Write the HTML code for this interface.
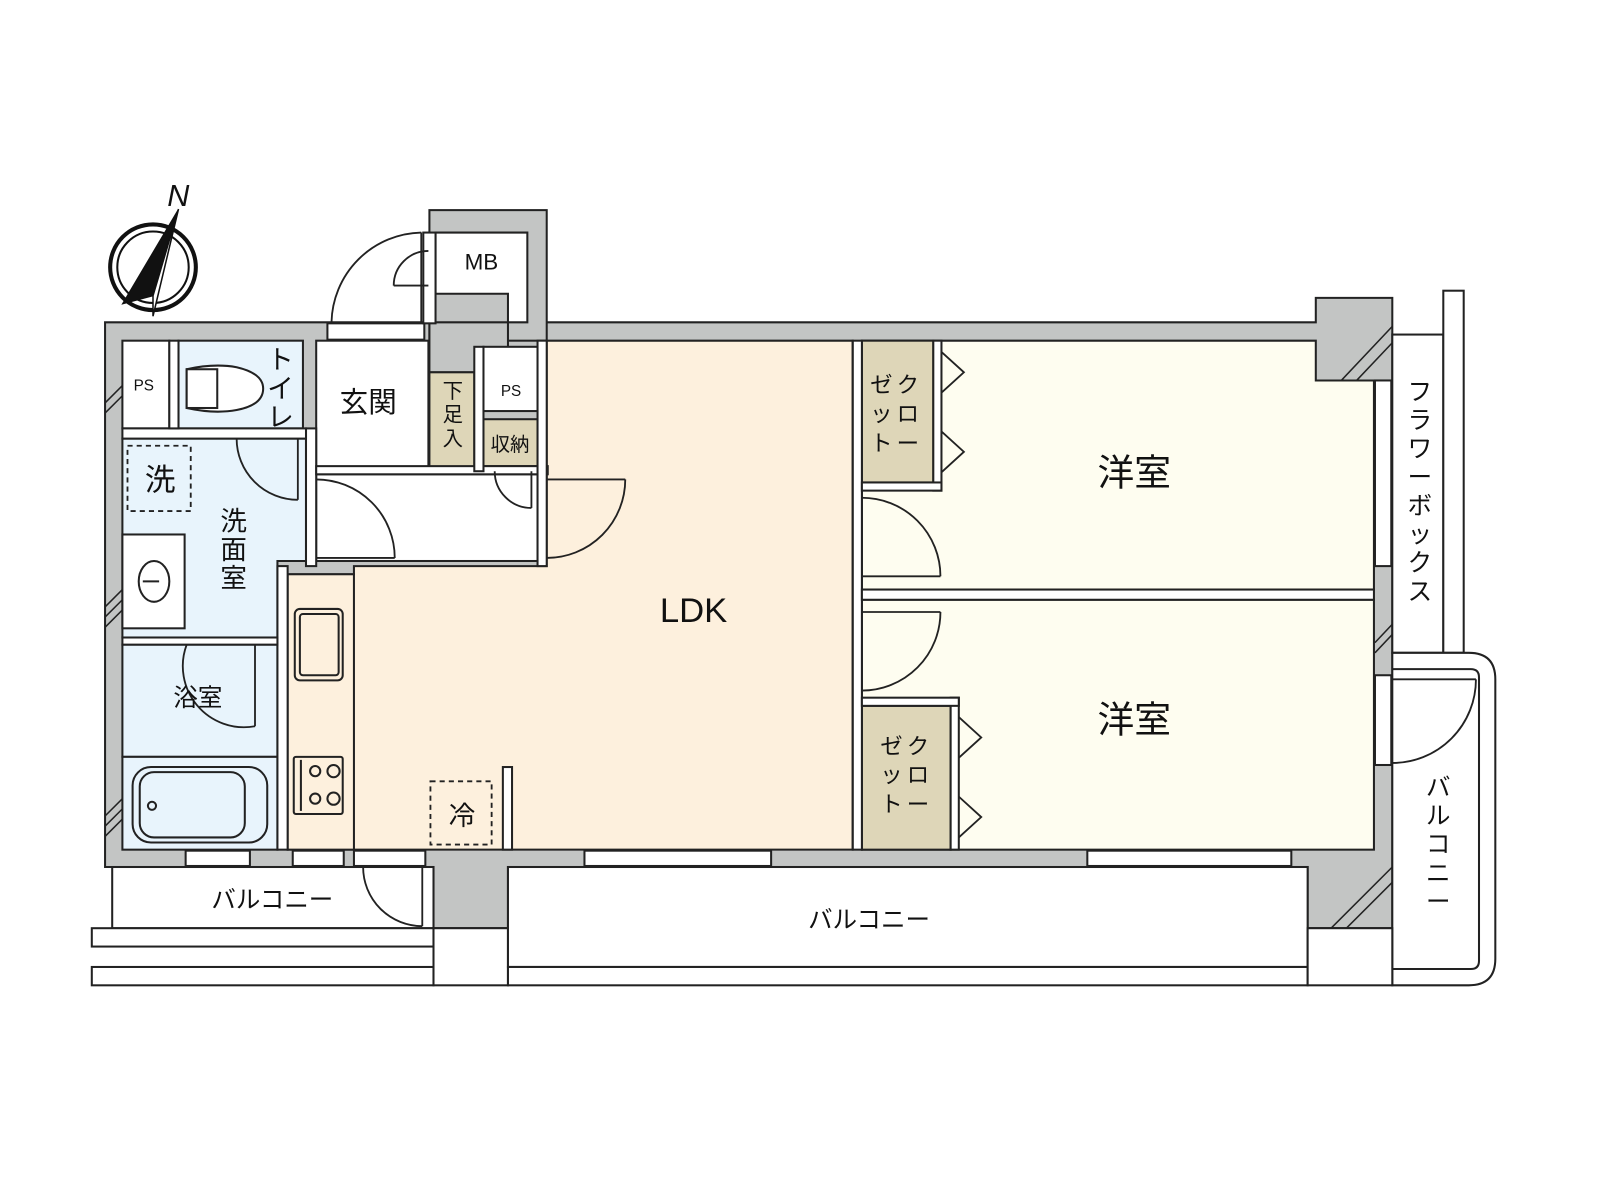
<!DOCTYPE html>
<html><head><meta charset="utf-8"><style>
html,body{margin:0;padding:0;background:#fff;}
svg{display:block;}
text{font-family:"Liberation Sans","Noto Sans CJK JP",sans-serif;fill:#111;}
</style></head><body>
<svg width="1600" height="1200" viewBox="0 0 1600 1200" xmlns="http://www.w3.org/2000/svg">
<g transform="scale(1.02)">
<g stroke="#222" stroke-width="2">
<path d="M103 316 H1290 V292 H1365 V910 H1282 V850 H498 V910 H425 V850 H103 Z" fill="#c3c5c4"/>
<rect x="421" y="206" width="115" height="128" fill="#c3c5c4"/>
<path d="M421 316 H498 V365 H421 Z" fill="#c3c5c4"/>
<path d="M427 228 H517 V316 H498 V288 H427 Z" fill="#fff"/>
<rect x="321" y="317" width="95" height="16" fill="#fff"/>
<rect x="415" y="228" width="12" height="89" fill="#fff"/>
<rect x="120" y="334" width="46" height="86" fill="#fff"/>
<rect x="175" y="334" width="122" height="86" fill="#e8f4fc"/>
<rect x="310" y="334" width="110" height="124" fill="#fff"/>
<rect x="421" y="365" width="44" height="97" fill="#ded6b8"/>
<rect x="474" y="340" width="53" height="63" fill="#fff"/>
<rect x="474" y="411" width="53" height="46" fill="#ded6b8"/>
<rect x="310" y="465" width="217" height="85" fill="#fff"/>
<path d="M120 430 H300 V550 H272 V625 H120 Z" fill="#e8f4fc"/>
<rect x="120" y="632" width="152" height="110" fill="#e8f4fc"/>
<rect x="120" y="742" width="152" height="91" fill="#e8f4fc"/>
<path d="M536 334 H836 V833 H282 V563 H347 V555 H536 Z" fill="#fdf0dd"/>
<rect x="282" y="563" width="65" height="270" fill="#fdf0dd"/>
<path d="M845 334 H1290 V373 H1347 V578 H845 Z" fill="#fefdf0"/>
<rect x="845" y="588" width="502" height="245" fill="#fefdf0"/>
<rect x="845" y="334" width="70" height="139" fill="#ded6b8"/>
<rect x="845" y="692" width="87" height="141" fill="#ded6b8"/>
<rect x="836" y="334" width="9" height="499" fill="#fff"/>
<rect x="845" y="578" width="502" height="10" fill="#fff"/>
<rect x="272" y="555" width="10" height="278" fill="#fff"/>
<rect x="300" y="420" width="10" height="135" fill="#fff"/>
<rect x="120" y="420" width="180" height="10" fill="#fff"/>
<rect x="166" y="334" width="9" height="86" fill="#fff"/>
<rect x="120" y="625" width="152" height="7" fill="#fff"/>
<rect x="310" y="457" width="227" height="8" fill="#fff"/>
<rect x="527" y="334" width="9" height="221" fill="#fff"/>
<rect x="465" y="340" width="9" height="122" fill="#fff"/>
<rect x="915" y="334" width="8" height="147" fill="#fff"/>
<rect x="932" y="684" width="8" height="149" fill="#fff"/>
<rect x="845" y="473" width="78" height="8" fill="#fff"/>
<rect x="845" y="684" width="95" height="8" fill="#fff"/>
<rect x="493" y="752" width="9" height="81" fill="#fff"/>
<rect x="182" y="834" width="63" height="15" fill="#fff"/>
<rect x="287" y="834" width="50" height="15" fill="#fff"/>
<rect x="347" y="834" width="70" height="15" fill="#fff"/>
<rect x="573" y="834" width="183" height="15" fill="#fff"/>
<rect x="1066" y="834" width="200" height="15" fill="#fff"/>
<rect x="1348" y="373" width="16" height="182" fill="#fff"/>
<rect x="1348" y="662" width="16" height="88" fill="#fff"/>
<rect x="1365" y="328" width="50" height="312" fill="#fff"/>
<rect x="1415" y="285" width="20" height="355" fill="#fff"/>
<path d="M1365 640 H1440 Q1466 640 1466 666 V940 Q1466 966 1440 966 H1365 Z" fill="#fff"/>
<path d="M1365 656 H1442 Q1450 656 1450 664 V942 Q1450 950 1442 950 H1365" fill="none"/>
<rect x="110" y="850" width="315" height="60" fill="#fff"/>
<rect x="90" y="910" width="335" height="18" fill="#fff"/>
<rect x="90" y="948" width="335" height="18" fill="#fff"/>
<rect x="425" y="910" width="73" height="56" fill="#fff"/>
<rect x="498" y="850" width="784" height="98" fill="#fff"/>
<rect x="498" y="948" width="784" height="18" fill="#fff"/>
<rect x="1282" y="910" width="83" height="56" fill="#fff"/>
</g>
<g stroke="#222" stroke-width="1.5">
<line x1="103" y1="395" x2="120" y2="378"/><line x1="103" y1="405" x2="120" y2="388"/>
<line x1="103" y1="595" x2="120" y2="578"/><line x1="103" y1="605" x2="120" y2="588"/><line x1="103" y1="615" x2="120" y2="598"/>
<line x1="103" y1="800" x2="120" y2="783"/><line x1="103" y1="810" x2="120" y2="793"/><line x1="103" y1="820" x2="120" y2="803"/>
<line x1="1315" y1="373" x2="1365" y2="320"/><line x1="1330" y1="373" x2="1365" y2="336"/>
<line x1="1348" y1="630" x2="1365" y2="612"/><line x1="1348" y1="640" x2="1365" y2="622"/>
<line x1="1305" y1="910" x2="1365" y2="850"/><line x1="1320" y1="910" x2="1365" y2="865"/>
</g>
<g stroke="#222" stroke-width="1.8" fill="none">
<path d="M325 316 A90 90 0 0 1 413 228" /><line x1="413" y1="228" x2="413" y2="316"/>
<path d="M386 280 A34 34 0 0 1 420 246"/><line x1="386" y1="280" x2="420" y2="280"/>
<path d="M232 430 A60 60 0 0 0 292 490"/><line x1="292" y1="430" x2="292" y2="490"/>
<path d="M310 470 A77 77 0 0 1 387 547"/><line x1="310" y1="547" x2="387" y2="547"/>
<path d="M485 462 A36 36 0 0 0 521 498"/><line x1="521" y1="462" x2="521" y2="498"/>
<path d="M613 470 A77 77 0 0 1 536 547"/><line x1="536" y1="470" x2="613" y2="470"/>
<path d="M183 632 A60 60 0 0 0 250 712"/><line x1="250" y1="632" x2="250" y2="712"/>
<path d="M845 488 A77 77 0 0 1 922 565"/><line x1="845" y1="565" x2="922" y2="565"/>
<path d="M922 600 A77 77 0 0 1 845 677"/><line x1="845" y1="600" x2="922" y2="600"/>
<path d="M356 850 A58 58 0 0 0 414 908"/><line x1="414" y1="850" x2="414" y2="908"/>
<path d="M1365 748 A82 82 0 0 0 1447 666"/><line x1="1365" y1="666" x2="1447" y2="666"/>
<path d="M923 345 L945 365 L923 385"/><path d="M923 423 L945 443 L923 463"/>
<path d="M940 703 L962 723 L940 743"/><path d="M940 781 L962 801 L940 821"/>
<rect x="125" y="437" width="62" height="64" stroke-dasharray="5,4"/>
<rect x="422" y="766" width="60" height="62" stroke-dasharray="5,4"/>
<line x1="836" y1="334" x2="836" y2="833"/>
</g>
<g stroke="#222" stroke-width="2" fill="none">
<path d="M183 362 Q210 356 232 360 Q258 366 258 381 Q258 397 232 402 Q210 406 183 400 Z" fill="#fff"/>
<rect x="183" y="362" width="30" height="38" fill="#fff"/>
<rect x="120" y="524" width="61" height="92" fill="#fff"/>
<ellipse cx="151" cy="570" rx="15" ry="20"/>
<line x1="140" y1="570" x2="156" y2="570"/>
<rect x="130" y="752" width="132" height="74" rx="18"/>
<rect x="137" y="757" width="103" height="64" rx="14"/>
<circle cx="149" cy="790" r="4"/>
<rect x="289" y="597" width="47" height="70" rx="5"/>
<rect x="294" y="602" width="38" height="60" rx="3"/>
<rect x="288" y="742" width="48" height="56" rx="2"/>
<circle cx="309" cy="756" r="5"/><circle cx="327" cy="756" r="6"/>
<circle cx="309" cy="783" r="5"/><circle cx="327" cy="783" r="6"/>
<line x1="295" y1="745" x2="295" y2="795"/>
</g>
<g stroke="#111" fill="none">
<circle cx="150" cy="262" r="42" stroke-width="4"/>
<circle cx="150" cy="262" r="35" stroke-width="2"/>
<path d="M175 205 L120 298 L150 290 Z" fill="#111" stroke-width="1"/>
<path d="M175 205 L150 310 L150 290 Z" fill="#fff" stroke-width="1.5"/>
</g>
<text x="164" y="202" font-size="30" font-style="italic" font-family="Liberation Serif">N</text>
<text x="141" y="383" font-size="15" text-anchor="middle">PS</text>
<text x="501" y="388" font-size="15" text-anchor="middle">PS</text>
<text x="472" y="264" font-size="22" text-anchor="middle">MB</text>
<g font-size="28" text-anchor="middle">
<text x="275" y="362" font-size="26">ト</text><text x="275" y="390" font-size="26">イ</text><text x="275" y="418" font-size="26">レ</text>
<text x="361" y="404">玄関</text>
<text x="157" y="481" font-size="30">洗</text>
<text x="229" y="520" font-size="26">洗</text><text x="229" y="548" font-size="26">面</text><text x="229" y="576" font-size="26">室</text>
<text x="194" y="692" font-size="24">浴室</text>
<text x="453" y="809" font-size="26">冷</text>
<text x="680" y="610" font-size="34">LDK</text>
<text x="1112" y="476" font-size="36">洋室</text>
<text x="1112" y="718" font-size="36">洋室</text>
</g>
<g font-size="20" text-anchor="middle">
<text x="444" y="390">下</text><text x="444" y="413">足</text><text x="444" y="437">入</text>
<text x="500" y="442" font-size="19">収納</text>
<text x="890" y="385" font-size="22">ク</text><text x="890" y="413" font-size="22">ロ</text><text x="890" y="442" font-size="22">ー</text>
<text x="864" y="385" font-size="22">ゼ</text><text x="864" y="413" font-size="22">ッ</text><text x="864" y="442" font-size="22">ト</text>
<text x="900" y="739" font-size="22">ク</text><text x="900" y="767" font-size="22">ロ</text><text x="900" y="796" font-size="22">ー</text>
<text x="874" y="739" font-size="22">ゼ</text><text x="874" y="767" font-size="22">ッ</text><text x="874" y="796" font-size="22">ト</text>
</g>
<g font-size="24" text-anchor="middle">
<text x="1392" y="392">フ</text><text x="1392" y="420">ラ</text><text x="1392" y="448">ワ</text><text x="1392" y="476">ー</text>
<text x="1392" y="504">ボ</text><text x="1392" y="532">ッ</text><text x="1392" y="560">ク</text><text x="1392" y="588">ス</text>
<text x="1410" y="780">バ</text><text x="1410" y="808">ル</text><text x="1410" y="836">コ</text><text x="1410" y="864">ニ</text><text x="1410" y="892">ー</text>
<text x="267" y="890">バルコニー</text>
<text x="852" y="910">バルコニー</text>
</g>
</g>
</svg>
</body></html>
